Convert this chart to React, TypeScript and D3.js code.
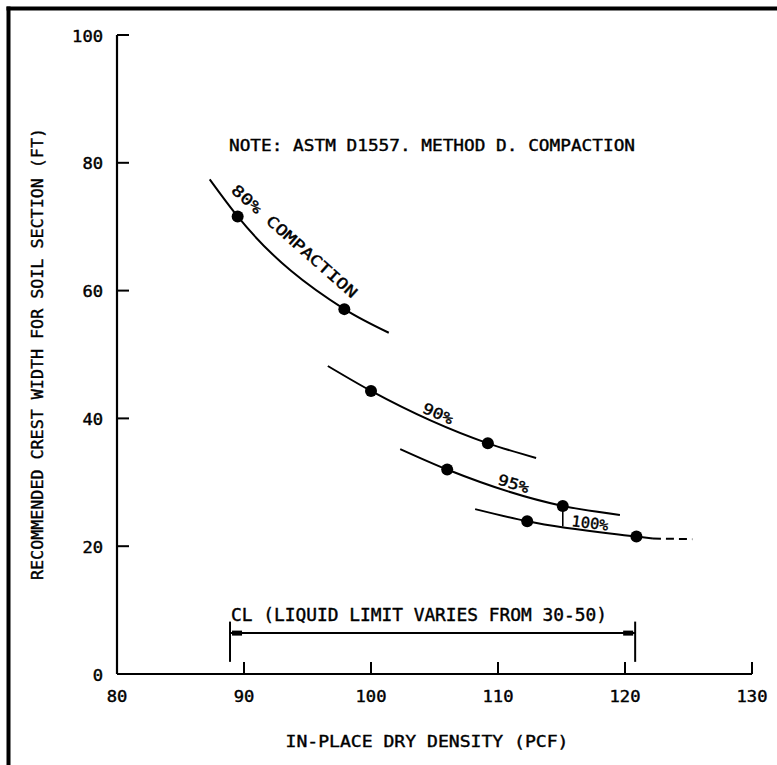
import React from "react";
import * as d3 from "d3";

// ---- data ----
const xTicks = [80, 90, 100, 110, 120, 130];
const yTicks = [0, 20, 40, 60, 80, 100];

const curveLabels = ["80% COMPACTION", "90%", "95%", "100%"];
// fitted curve traces (x = dry density pcf, y = crest width ft)
const curve80: [number, number][] = [[87.3, 77.4], [89.5, 71.6], [97.9, 57.1], [101.4, 53.4]];
const curve90: [number, number][] = [[96.6, 48.2], [100.0, 44.3], [109.2, 36.1], [113.0, 33.8]];
const curve95: [number, number][] = [[102.3, 35.2], [106.0, 32.0], [115.1, 26.3], [119.6, 24.9]];
const curve100: [number, number][] = [[108.2, 25.8], [112.3, 23.9], [120.9, 21.5], [122.2, 21.2]];
const curve100Dashed: [number, number][] = [[122.2, 21.2], [125.3, 21.1]];

// measured points
const points80: [number, number][] = [[89.5, 71.6], [97.9, 57.1]];
const points90: [number, number][] = [[100.0, 44.3], [109.2, 36.1]];
const points95: [number, number][] = [[106.0, 32.0], [115.1, 26.3]];
const points100: [number, number][] = [[112.3, 23.9], [120.9, 21.5]];

// label anchor positions (data coords) and angles
const labelPos: [number, number][] = [[93.7, 67.1], [105.1, 40.0], [111.1, 29.0], [117.2, 22.8]];
const labelAngle = [41.5, 24, 17, 7];
const labelWidth = [162, 32, 32, 37];

const leader95: [number, number][] = [[115.1, 26.3], [115.1, 23.1]];

const clRange = [88.9, 120.8];
const clY = 6.4;
const clEndY = [1.9, 8.2];

const noteText = "NOTE: ASTM D1557. METHOD D. COMPACTION";
const clText = "CL (LIQUID LIMIT VARIES FROM 30-50)";
const xTitle = "IN-PLACE DRY DENSITY (PCF)";
const yTitle = "RECOMMENDED CREST WIDTH FOR SOIL SECTION (FT)";

const W = 777;
const H = 765;
const FONT = "'DejaVu Sans Mono', 'Liberation Mono', monospace";

export default function App() {
  const x = d3.scaleLinear().domain([80, 130]).range([117, 752]);
  const y = d3.scaleLinear().domain([0, 100]).range([674, 35]);

  const line = d3
    .line<[number, number]>()
    .x((d) => x(d[0]))
    .y((d) => y(d[1]))
    .curve(d3.curveMonotoneX);
  const straight = d3
    .line<[number, number]>()
    .x((d) => x(d[0]))
    .y((d) => y(d[1]));

  const curves = [curve80, curve90, curve95, curve100];
  const pointSets = [points80, points90, points95, points100];

  const txt = {
    fontFamily: FONT,
    fontSize: 16,
    fill: "#000",
    fontWeight: 400 as const,
    stroke: "#000",
    strokeWidth: 0.4,
  };

  return (
    <svg
      width={W}
      height={H}
      viewBox={`0 0 ${W} ${H}`}
      style={{ position: "absolute", left: 0, top: 0, background: "#fff" }}
    >
      <rect x={0} y={0} width={W} height={H} fill="#fff" />
      {/* frame */}
      <line x1={8.5} y1={6.5} x2={8.5} y2={H + 5} stroke="#000" strokeWidth={4} />
      <line x1={6.5} y1={8.5} x2={W + 5} y2={8.5} stroke="#000" strokeWidth={4} />

      {/* axes */}
      <line x1={x(80)} y1={y(100)} x2={x(80)} y2={y(0)} stroke="#000" strokeWidth={2.2} />
      <line x1={x(80)} y1={y(0)} x2={x(130)} y2={y(0)} stroke="#000" strokeWidth={2.2} />
      {yTicks.map((t) => (
        <g key={"yt" + t}>
          {t > 0 && (
            <line x1={x(80)} x2={x(80) + 12} y1={y(t)} y2={y(t)} stroke="#000" strokeWidth={2} />
          )}
          <text
            x={103}
            y={y(t) + 6.5}
            textAnchor="end"
            {...txt}
            fontSize={15}
            textLength={String(t).length * 10.3}
            lengthAdjust="spacingAndGlyphs"
          >
            {t}
          </text>
        </g>
      ))}
      {xTicks.map((t) => (
        <g key={"xt" + t}>
          {t > 80 && (
            <line x1={x(t)} x2={x(t)} y1={y(0)} y2={y(0) - 12} stroke="#000" strokeWidth={2} />
          )}
          <text
            x={x(t)}
            y={702}
            textAnchor="middle"
            {...txt}
            fontSize={15}
            textLength={String(t).length * 10.3}
            lengthAdjust="spacingAndGlyphs"
          >
            {t}
          </text>
        </g>
      ))}

      {/* axis titles */}
      <text
        x={427}
        y={747}
        textAnchor="middle"
        {...txt}
        textLength={283}
        lengthAdjust="spacingAndGlyphs"
      >
        {xTitle}
      </text>
      <text
        transform="translate(43,354) rotate(-90)"
        textAnchor="middle"
        {...txt}
        textLength={452}
        lengthAdjust="spacingAndGlyphs"
      >
        {yTitle}
      </text>

      {/* note */}
      <text
        x={229}
        y={150.5}
        {...txt}
        textLength={406}
        lengthAdjust="spacingAndGlyphs"
      >
        {noteText}
      </text>

      {/* curves */}
      {curves.map((c, i) => (
        <path key={"c" + i} d={line(c) || ""} fill="none" stroke="#000" strokeWidth={2} />
      ))}
      <path
        d={straight(curve100Dashed) || ""}
        fill="none"
        stroke="#000"
        strokeWidth={2}
        strokeDasharray="8 5"
      />
      <path d={straight(leader95) || ""} stroke="#000" strokeWidth={1.6} fill="none" />

      {pointSets.map((ps, i) =>
        ps.map((p, j) => (
          <circle key={`p${i}-${j}`} cx={x(p[0])} cy={y(p[1])} r={6} fill="#000" />
        ))
      )}

      {curveLabels.map((l, i) => (
        <text
          key={"lab" + i}
          transform={`translate(${x(labelPos[i][0])},${y(labelPos[i][1])}) rotate(${labelAngle[i]})`}
          textAnchor="middle"
          {...txt}
          fontSize={15}
          textLength={labelWidth[i]}
          lengthAdjust="spacingAndGlyphs"
        >
          {l}
        </text>
      ))}

      {/* CL range bar */}
      <text
        x={x(clRange[0]) + 1}
        y={620.5}
        {...txt}
        fontSize={17}
        textLength={376}
        lengthAdjust="spacingAndGlyphs"
      >
        {clText}
      </text>
      <line x1={x(clRange[0])} x2={x(clRange[1])} y1={y(clY)} y2={y(clY)} stroke="#000" strokeWidth={2} />
      {clRange.map((v, i) => (
        <g key={"cl" + i}>
          <line x1={x(v)} x2={x(v)} y1={y(clEndY[0])} y2={y(clEndY[1])} stroke="#000" strokeWidth={2} />
          <rect
            x={i === 0 ? x(v) + 2 : x(v) - 12}
            y={y(clY) - 2.5}
            width={10}
            height={5}
            fill="#000"
          />
        </g>
      ))}
    </svg>
  );
}
